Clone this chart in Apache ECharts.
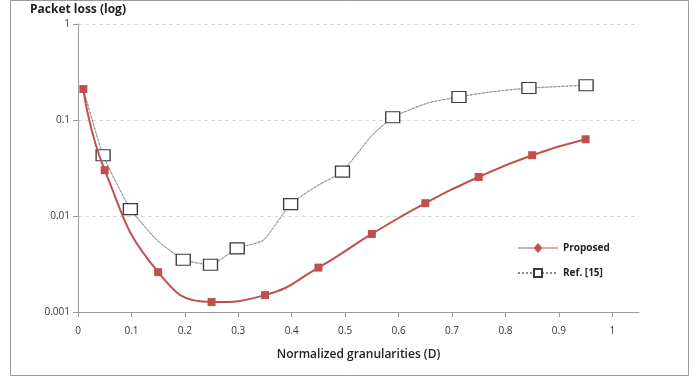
<!DOCTYPE html>
<html>
<head>
<meta charset="utf-8">
<script src="https://cdn.jsdelivr.net/npm/echarts@6/dist/echarts.min.js"></script>
<style>
html,body{margin:0;padding:0;background:#fff;}
#chart{width:699px;height:377px;}
</style>
</head>
<body>
<div id="chart"></div>
<script>
// values
var xTicks = [0, 0.1, 0.2, 0.3, 0.4, 0.5, 0.6, 0.7, 0.8, 0.9, 1];
var yTicks = [0.001, 0.01, 0.1, 1];

var propX = [0.01, 0.05, 0.15, 0.25, 0.35, 0.45, 0.55, 0.65, 0.75, 0.85, 0.95];
var propY = [0.21, 0.030, 0.0026, 0.00127, 0.0015, 0.0029, 0.0065, 0.0136, 0.0255, 0.043, 0.063];

// ref [15]: mk = 1 where a square marker is drawn
var refX  = [0.01, 0.047, 0.098, 0.148, 0.197, 0.248, 0.298, 0.347, 0.398, 0.45, 0.495, 0.548, 0.589, 0.654, 0.713, 0.773, 0.844, 0.951];
var refY  = [0.21, 0.043, 0.0118, 0.0056, 0.0035, 0.0031, 0.0046, 0.0056, 0.0133, 0.021, 0.029, 0.067, 0.107, 0.15, 0.174, 0.196, 0.215, 0.23];
var refMk = [0, 1, 1, 0, 1, 1, 1, 0, 1, 0, 1, 0, 1, 0, 1, 0, 1, 1];

var chart = echarts.init(document.getElementById('chart'));
var font = 'Open Sans';

var propData = propX.map(function(x, i){ return [x, propY[i]]; });
var refData = refX.map(function(x, i){
  var d = {value: [x, refY[i]]};
  if (!refMk[i]) d.symbol = 'none';
  return d;
});
var refLine = refX.map(function(x, i){ return [x, refY[i]]; });

// line with a diamond in the middle, for the legend
var diamondIcon = 'path://M0,4.4 L16,4.4 L20,0 L24,4.4 L40,4.4 L40,5.6 L24,5.6 L20,10 L16,5.6 L0,5.6 Z';

chart.setOption({
  animation: false,
  grid: {left: 78, right: 60, top: 24, bottom: 65},
  graphic: [
    {type: 'rect', shape: {x: 10.5, y: 0.5, width: 678, height: 375},
     style: {fill: 'none', stroke: '#9a9a9a', lineWidth: 1}, silent: true},
    {type: 'text', left: 30, top: 4,
     style: {text: 'Packet loss (log)', font: 'bold 12px ' + font, fill: '#222'}}
  ],
  legend: {
    orient: 'vertical', left: 512, top: 238, itemGap: 15,
    itemWidth: 40, itemHeight: 10,
    textStyle: {fontFamily: font, fontSize: 10, fontWeight: 'bold', color: '#222'},
    data: [
      {name: 'Proposed', icon: diamondIcon, itemStyle: {color: '#c0504d'}},
      {name: 'Ref. [15]'}
    ]
  },
  xAxis: {
    type: 'value', min: 0, max: 1.05, interval: 0.1,
    name: 'Normalized granularities (D)', nameLocation: 'middle', nameGap: 37,
    nameTextStyle: {fontFamily: font, fontSize: 12, fontWeight: 600, color: '#222'},
    axisLine: {lineStyle: {color: '#9a9a9a', width: 1}},
    axisTick: {length: 5, lineStyle: {color: '#9a9a9a'}, customValues: xTicks},
    axisLabel: {fontFamily: font, fontSize: 10, color: '#333', margin: 14, customValues: xTicks,
      formatter: function(v){ return String(v); }},
    splitLine: {show: false}
  },
  yAxis: {
    type: 'log', logBase: 10, min: 0.001, max: 1,
    axisLine: {show: true, lineStyle: {color: '#9a9a9a', width: 1}},
    axisTick: {show: true, length: 5, lineStyle: {color: '#9a9a9a'}},
    axisLabel: {fontFamily: font, fontSize: 10, color: '#333', margin: 8,
      formatter: function(v){
        var t = yTicks.filter(function(y){ return Math.abs(Math.log10(y) - Math.log10(v)) < 0.01; });
        return t.length ? String(t[0]) : '';
      }},
    splitLine: {show: true, lineStyle: {color: '#d8d8d8', type: [4, 3]}}
  },
  series: [
    {
      name: 'Ref. [15] line', type: 'line', data: refLine, symbol: 'none',
      smooth: 0.15, silent: true,
      lineStyle: {color: '#c4c4c4', width: 1.2}, z: 1
    },
    {
      name: 'Ref. [15]', type: 'line', data: refData,
      smooth: 0.15, symbol: 'rect', symbolSize: [14, 11],
      itemStyle: {color: '#fff', borderColor: '#3a3a3a', borderWidth: 1.2},
      lineStyle: {color: '#8a8a8a', width: 1, type: [2, 2]}, z: 2
    },
    {
      name: 'Proposed', type: 'line', data: propData,
      smooth: 0.5, symbol: 'rect', symbolSize: 8,
      itemStyle: {color: '#c0504d'},
      lineStyle: {color: '#c0504d', width: 2}, z: 3
    }
  ]
});
</script>
</body>
</html>
